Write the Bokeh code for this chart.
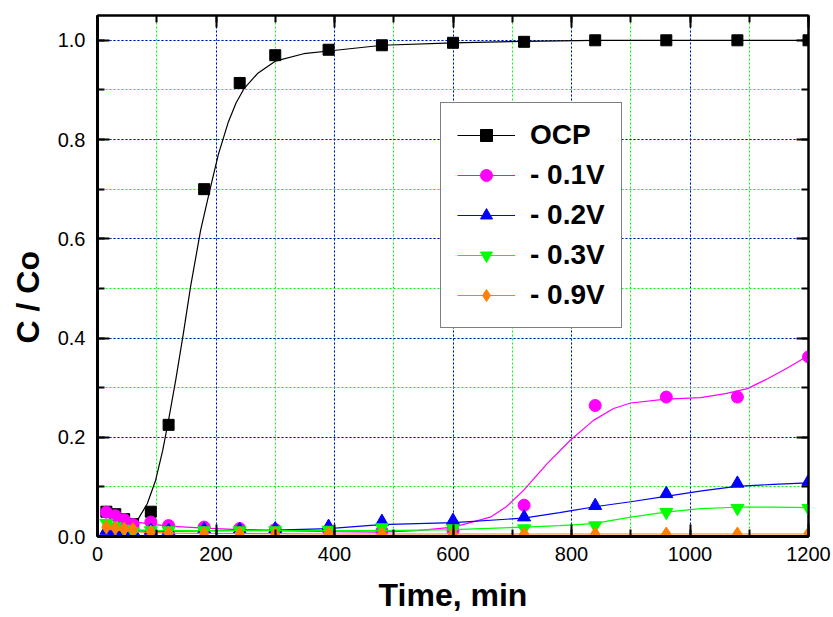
import math
from bokeh.plotting import figure
from bokeh.models import (LinearAxis, SingleIntervalTicker, PrintfTickFormatter, Legend,
                          LegendItem, Title, Range1d, CustomJSTickFormatter)
from bokeh.embed import file_html
from bokeh.resources import INLINE

# ---------------- data ----------------
time_min = [15, 30, 45, 60, 90, 120, 180, 240, 300, 390, 480, 600, 720, 840, 960, 1080, 1200]

ocp   = [0.050, 0.045, 0.035, 0.025, 0.050, 0.225, 0.700, 0.914, 0.970, 0.981, 0.990, 0.995, 0.997, 1.000, 1.000, 1.000, 1.000]
v_01  = [0.049, 0.042, 0.034, 0.024, 0.029, 0.022, 0.019, 0.016, 0.014, 0.012, 0.011, 0.012, 0.063, 0.264, 0.281, 0.281, 0.362]
v_02  = [0.012, 0.012, 0.010, 0.010, 0.012, 0.012, 0.014, 0.014, 0.015, 0.020, 0.030, 0.032, 0.039, 0.062, 0.086, 0.107, 0.111]
v_03  = [0.027, 0.020, 0.015, 0.010, 0.012, 0.012, 0.012, 0.012, 0.012, 0.013, 0.018, 0.016, 0.016, 0.022, 0.049, 0.057, 0.057]
v_09  = [0.019, 0.017, 0.015, 0.014, 0.009, 0.007, 0.006, 0.006, 0.006, 0.006, 0.005, 0.005, 0.005, 0.005, 0.005, 0.005, 0.006]

# fitted curves
ocp_fit_t = [15, 30, 45, 56, 67, 84, 98, 110, 120, 132, 145, 157, 174, 190, 204, 221, 234, 247, 270, 300, 348, 402, 481,
             600, 720, 840, 1200]
ocp_fit_y = [0.008, 0.010, 0.013, 0.018, 0.032, 0.066, 0.113, 0.173, 0.235, 0.315, 0.410, 0.503, 0.617, 0.700, 0.770,
             0.836, 0.874, 0.902, 0.933, 0.958, 0.973, 0.980, 0.990, 0.995, 0.998, 1.000, 1.000]

v01_fit_t = [15, 30, 45, 60, 90, 120, 180, 240, 300, 400, 478, 540, 601, 663, 690, 719, 759, 798, 837, 871, 900, 959,
             1018, 1060, 1097, 1131, 1165, 1200]
v01_fit_y = [0.050, 0.043, 0.036, 0.030, 0.025, 0.021, 0.017, 0.014, 0.012, 0.010, 0.009, 0.012, 0.019, 0.039, 0.060,
             0.093, 0.147, 0.194, 0.234, 0.258, 0.269, 0.277, 0.280, 0.288, 0.298, 0.318, 0.340, 0.365]

v02_fit_t = [15, 100, 200, 300, 390, 478, 601, 719, 780, 839, 900, 959, 1020, 1078, 1140, 1200]
v02_fit_y = [0.012, 0.011, 0.012, 0.013, 0.016, 0.024, 0.028, 0.037, 0.048, 0.060, 0.070, 0.081, 0.092, 0.101, 0.105, 0.108]

v03_fit_t = [15, 100, 200, 300, 400, 478, 600, 719, 780, 837, 900, 959, 1018, 1078, 1140, 1200]
v03_fit_y = [0.016, 0.012, 0.012, 0.012, 0.012, 0.012, 0.014, 0.019, 0.022, 0.026, 0.039, 0.049, 0.056, 0.059, 0.059, 0.058]

v09_fit_t = [15, 60, 120, 200, 400, 1200]
v09_fit_y = [0.015, 0.010, 0.007, 0.006, 0.005, 0.005]

labels = ["OCP", "- 0.1V", "- 0.2V", "- 0.3V", "- 0.9V"]
colors = ["#000000", "#ff00ff", "#0000ff", "#00ff00", "#ff8000"]
markers = ["square", "circle", "triangle", "inverted_triangle", "diamond"]
msizes = [11, 12, 13, 13, 14]

x_ticks_major = 200
y_ticks_major = 0.2

FONT = "Liberation Sans"

# ---------------- figure ----------------
p = figure(width=833, height=617, output_backend="svg", toolbar_location=None,
           x_range=Range1d(0, 1200), y_range=Range1d(0, 1.05),
           min_border_left=97, min_border_right=25, min_border_top=15, min_border_bottom=81,
           background_fill_color="white", border_fill_color="white")
p.outline_line_color = "black"
p.outline_line_width = 2

xt = SingleIntervalTicker(interval=x_ticks_major, num_minor_ticks=2)
yt = SingleIntervalTicker(interval=y_ticks_major, num_minor_ticks=2)

def style_axis(ax, ticker, width, show_labels=True):
    ax.ticker = ticker
    ax.axis_line_width = width
    ax.axis_line_color = "black"
    ax.major_tick_in = 12
    ax.major_tick_out = 0
    ax.minor_tick_in = 7
    ax.minor_tick_out = 0
    ax.major_tick_line_width = 2
    ax.minor_tick_line_width = 2
    ax.major_tick_line_color = "black"
    ax.minor_tick_line_color = "black"
    if show_labels:
        ax.major_label_text_font = FONT
        ax.major_label_text_font_size = "20px"
        ax.major_label_text_color = "black"
    else:
        ax.formatter = CustomJSTickFormatter(code="return ''")
        ax.major_label_text_font_size = "0px"
        ax.major_label_standoff = 0

xb = p.below[0]
yl = p.left[0]
style_axis(xb, xt, 3)
style_axis(yl, yt, 3)
xb.major_label_standoff = 10
yl.major_label_standoff = 12
yl.formatter = PrintfTickFormatter(format="%.1f")

xb.axis_label = "Time, min"
xb.axis_label_text_font = FONT
xb.axis_label_text_font_size = "32px"
xb.axis_label_text_font_style = "bold"
xb.axis_label_text_color = "black"
xb.axis_label_standoff = 13

xa = LinearAxis()
style_axis(xa, SingleIntervalTicker(interval=x_ticks_major, num_minor_ticks=2), 2, show_labels=False)
p.add_layout(xa, "above")
yr = LinearAxis()
style_axis(yr, SingleIntervalTicker(interval=y_ticks_major, num_minor_ticks=2), 2, show_labels=False)
p.add_layout(yr, "right")

for g in (p.xgrid[0], p.ygrid[0]):
    g.grid_line_color = "#0000ff"
    g.grid_line_dash = "2 2"
    g.grid_line_width = 1
    g.minor_grid_line_color = "#00ff00"
    g.minor_grid_line_dash = "2 2"
    g.minor_grid_line_width = 1

# y-axis title as a side title so it can be offset like the original
ytitle = Title(text="C / Co", align="left", vertical_align="top", offset=193, standoff=14,
               text_font=FONT, text_font_size="32px", text_font_style="bold", text_color="black")
p.add_layout(ytitle, "left")

# ---------------- series ----------------
series_pts = [ocp, v_01, v_02, v_03, v_09]
fits = [(ocp_fit_t, ocp_fit_y), (v01_fit_t, v01_fit_y), (v02_fit_t, v02_fit_y),
        (v03_fit_t, v03_fit_y), (v09_fit_t, v09_fit_y)]

items = []
for lab, col, mk, ms, pts, (ft, fy) in zip(labels, colors, markers, msizes, series_pts, fits):
    lr = p.line(ft, fy, line_color=col, line_width=1.2)
    sr = p.scatter(time_min, pts, marker=mk, size=ms, fill_color=col, line_color=col)
    items.append(LegendItem(label=lab, renderers=[lr, sr]))

legend = Legend(items=items, location=(343, 208))
legend.label_text_font = FONT
legend.label_text_font_size = "28px"
legend.label_text_font_style = "bold"
legend.label_text_color = "black"
legend.glyph_width = 58
legend.glyph_height = 30
legend.label_height = 30
legend.label_standoff = 15
legend.spacing = 8
legend.padding = 16
legend.margin = 0
legend.border_line_color = "black"
legend.border_line_width = 1.5
legend.background_fill_color = "white"
legend.background_fill_alpha = 1
p.add_layout(legend)

open("out.html", "w").write(file_html(p, INLINE))
